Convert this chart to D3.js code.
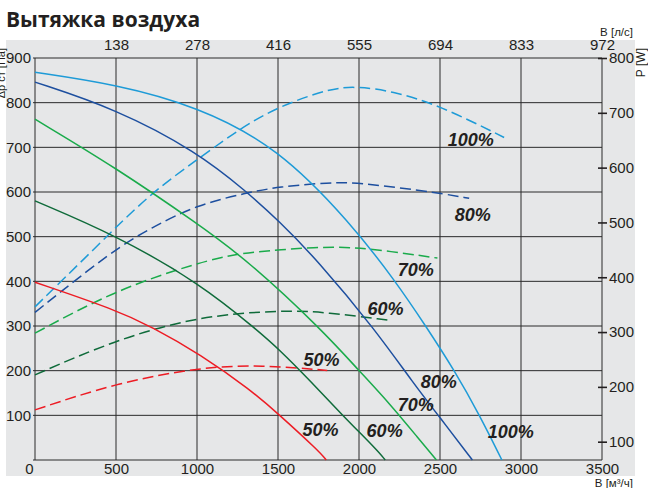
<!DOCTYPE html>
<html><head><meta charset="utf-8">
<script src="https://cdn.jsdelivr.net/npm/d3@7/dist/d3.min.js"></script>
<style>body{margin:0;background:#fff}svg{display:block}</style>
</head><body>
<svg id="c" width="648" height="488"></svg>
<script>
// ---- data ----
const title = "Вытяжка воздуха";
const flowTicks = [0, 500, 1000, 1500, 2000, 2500, 3000, 3500];
const lsLabels = ["138", "278", "416", "555", "694", "833", "972"];
const pressureTicks = [100, 200, 300, 400, 500, 600, 700, 800, 900];
const powerTicks = [100, 200, 300, 400, 500, 600, 700, 800];
const speeds = ["100%", "80%", "70%", "60%", "50%"];

// pressure curves [flow m3/h, Pa]
const pressure100 = [[0,868],[500,841],[1000,792],[1500,700],[1950,530],[2226,400],[2412,300],[2590,200],[2745,100],[2882,0]];
const pressure80  = [[0,846],[500,786],[1000,690],[1309,600],[1500,537],[1742,448],[2102,291],[2339,170],[2500,95],[2700,0]];
const pressure70  = [[0,763],[500,654],[1000,530],[1309,448],[1773,291],[2000,200],[2185,128],[2370,47],[2478,0]];
const pressure60  = [[0,580],[500,503],[1020,395],[1371,291],[1500,250],[1700,177],[1898,100],[2113,22],[2162,0]];
const pressure50  = [[0,398],[500,336],[721,298],[1020,237],[1330,157],[1500,104],[1752,20],[1798,0]];

// power curves [flow m3/h, W]
const power100 = [[0,346],[360,450],[711,553],[1000,614],[1268,672],[1500,711],[1824,745],[1989,748],[2200,740],[2494,714],[2896,655]];
const power80  = [[0,336],[485,450],[711,489],[996,532],[1309,554],[1500,565],[1824,573],[1989,573],[2494,554],[2680,544]];
const power70  = [[0,298],[499,377],[1020,428],[1268,444],[1500,450],[1850,457],[2133,450],[2484,435]];
const power60  = [[0,222],[499,286],[1020,330],[1546,340],[1800,336],[2175,322]];
const power50  = [[0,158],[499,207],[1020,236],[1400,240],[1804,230]];

// ---- drawing ----
const svg = d3.select("#c");
const ink = "#231f20";
const colors = ["#1e9bd7", "#1d4f9f", "#1aab4b", "#0f6b3a", "#ed1c24"];
const pressures = [pressure100, pressure80, pressure70, pressure60, pressure50];
const powers = [power100, power80, power70, power60, power50];

const x = d3.scaleLinear().domain([0, 3500]).range([35, 602]);
const y = d3.scaleLinear().domain([0, 900]).range([460, 58]);
const yR = d3.scaleLinear().domain([0, 800]).range([496.5, 58]);

// background panel
svg.append("rect").attr("x", 6).attr("y", 40).attr("width", 629).attr("height", 436).attr("fill", "#e6e7e8");

// title
svg.append("text").attr("x", 6).attr("y", 27).attr("font-family", "Open Sans").attr("font-weight", 700)
  .attr("font-size", 21).attr("fill", ink).text(title);

// grid
const g = svg.append("g").attr("stroke", "#2a2a2a").attr("stroke-width", 1).attr("fill", "none");
flowTicks.forEach(v => {
  g.append("line").attr("x1", x(v)).attr("x2", x(v)).attr("y1", y(900)).attr("y2", y(0));
});
[0].concat(pressureTicks).forEach(v => {
  g.append("line").attr("x1", x(0) - 2).attr("x2", x(3500)).attr("y1", y(v)).attr("y2", y(v));
});

// left axis labels
const fontAxis = "Liberation Sans, Arial, sans-serif";
const leftAxis = d3.axisLeft(y).tickValues(pressureTicks).tickSize(0).tickPadding(4);
svg.append("g").attr("transform", `translate(${x(0)},0)`).call(leftAxis)
  .call(s => s.select(".domain").remove())
  .call(s => s.selectAll("text").attr("font-family", fontAxis).attr("font-size", 15).attr("fill", ink));

// bottom axis
const bottomAxis = d3.axisBottom(x).tickValues(flowTicks).tickSize(0).tickPadding(3).tickFormat(d3.format("d"));
svg.append("g").attr("transform", `translate(0,${y(0)})`).call(bottomAxis)
  .call(s => s.select(".domain").remove())
  .call(s => s.selectAll("text").attr("font-family", fontAxis).attr("font-size", 15).attr("fill", ink))
  .call(s => s.selectAll(".tick").filter(d => d === 0).select("text").attr("dx", -6));

// top axis (l/s)
const topAxis = d3.axisTop(x).tickValues(flowTicks.slice(1)).tickSize(0).tickPadding(8)
  .tickFormat((d, i) => lsLabels[i]);
svg.append("g").attr("transform", `translate(0,${y(900)})`).call(topAxis)
  .call(s => s.select(".domain").remove())
  .call(s => s.selectAll("text").attr("font-family", fontAxis).attr("font-size", 15).attr("fill", ink));

// right axis (W)
const rightAxis = d3.axisRight(yR).tickValues(powerTicks).tickSize(0).tickPadding(7);
const ra = svg.append("g").attr("transform", `translate(${x(3500)},0)`).call(rightAxis)
  .call(s => s.select(".domain").remove())
  .call(s => s.selectAll("text").attr("font-family", fontAxis).attr("font-size", 15).attr("fill", ink));
ra.selectAll(".tick").append("line").attr("x1", -4).attr("x2", 5).attr("stroke", ink).attr("stroke-width", 1.6);

// axis titles
svg.append("text").attr("x", 633).attr("y", 36).attr("text-anchor", "end").attr("font-family", fontAxis)
  .attr("font-size", 11.5).attr("fill", ink).text("В [л/с]");
svg.append("text").attr("x", 633).attr("y", 487).attr("text-anchor", "end").attr("font-family", fontAxis)
  .attr("font-size", 11.5).attr("fill", ink).text("В [м³/ч]");
svg.append("text").attr("transform", "translate(645,48) rotate(-90)").attr("text-anchor", "end").attr("font-family", fontAxis)
  .attr("font-size", 12).attr("fill", ink).text("P [W]");
svg.append("text").attr("transform", "translate(5,48) rotate(-90)").attr("text-anchor", "end").attr("font-family", fontAxis)
  .attr("font-size", 11).attr("fill", ink).text("Δp ст [Па]");

// curves
const lineP = d3.line().x(d => x(d[0])).y(d => y(d[1])).curve(d3.curveBasis);
const lineW = d3.line().x(d => x(d[0])).y(d => yR(d[1])).curve(d3.curveBasis);
powers.forEach((arr, i) => {
  svg.append("path").attr("d", lineW(arr)).attr("fill", "none").attr("stroke", colors[i])
    .attr("stroke-width", 1.5).attr("stroke-dasharray", "11,5");
});
pressures.forEach((arr, i) => {
  svg.append("path").attr("d", lineP(arr)).attr("fill", "none").attr("stroke", colors[i]).attr("stroke-width", 1.5);
});

// curve labels (anchored in data space)
const curveLabels = [
  {s: 0, f: 2548, p: 703}, {s: 1, f: 2591, p: 535}, {s: 2, f: 2239, p: 412}, {s: 3, f: 2053, p: 325}, {s: 4, f: 1657, p: 210},
  {s: 0, f: 2795, p: 49}, {s: 1, f: 2381, p: 161}, {s: 2, f: 2239, p: 110}, {s: 3, f: 2047, p: 51}, {s: 4, f: 1651, p: 54}
];
svg.append("g").selectAll("text").data(curveLabels).join("text")
  .attr("x", d => x(d.f)).attr("y", d => y(d.p))
  .attr("font-family", fontAxis).attr("font-weight", 700).attr("font-style", "italic")
  .attr("font-size", 18).attr("fill", ink).text(d => speeds[d.s]);
</script>
</body></html>
